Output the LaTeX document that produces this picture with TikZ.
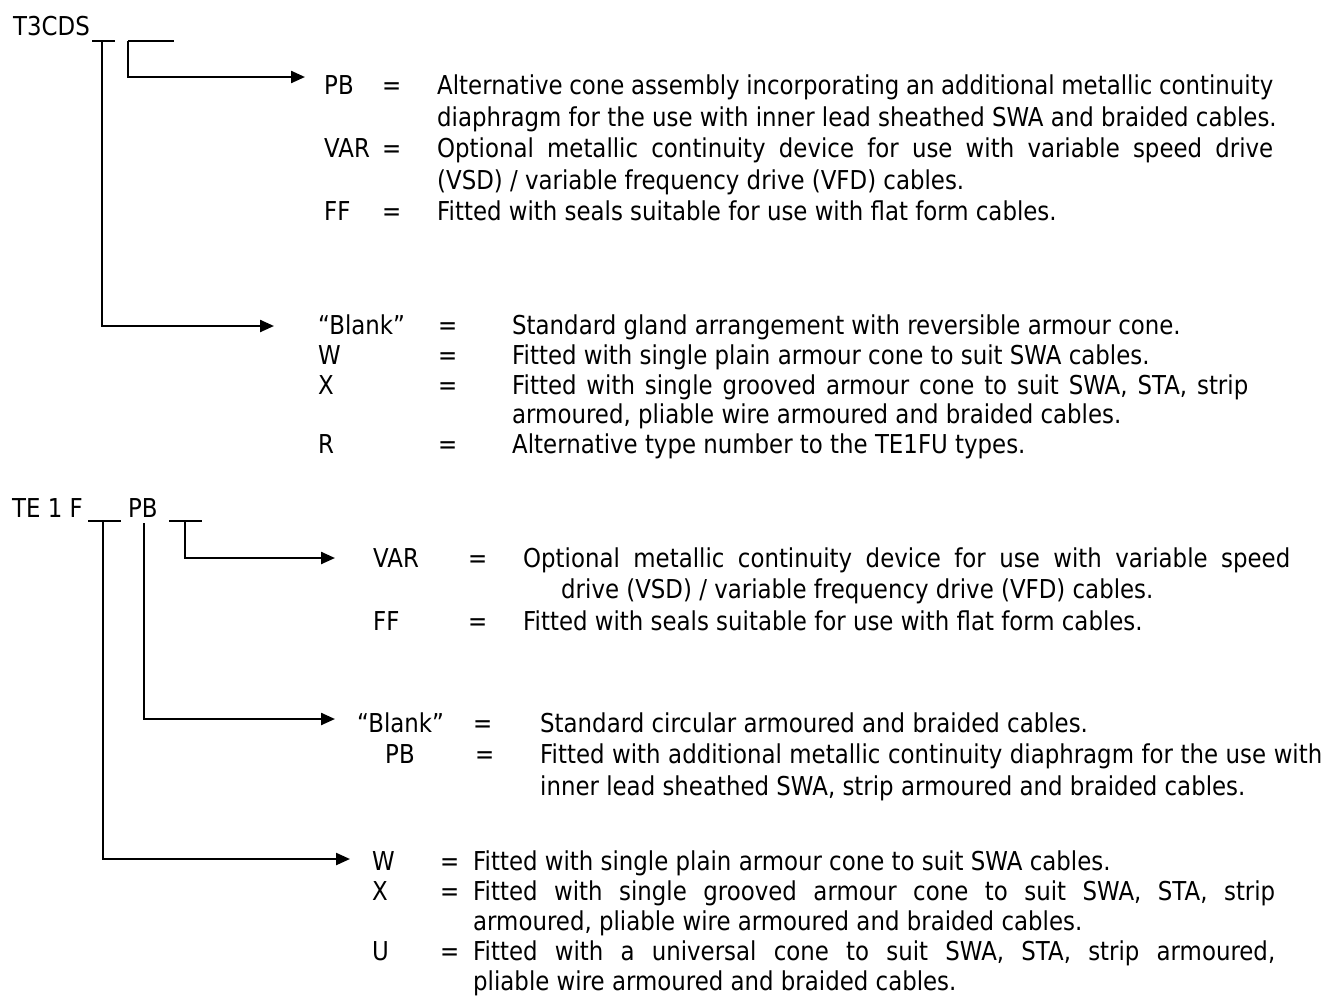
\documentclass[tikz,border=0pt]{standalone}
\usepackage{fontspec}
\setmainfont{DejaVu Sans}[FakeStretch=0.88]
\usetikzlibrary{arrows.meta}

\tikzset{
  txt/.style={anchor=base west, inner sep=0pt, font=\fontsize{26}{31}\selectfont},
  conn/.style={line width=2.3pt, -{Triangle[length=14pt,width=12pt]}},
  bar/.style={line width=2.3pt},
}

\begin{document}
\begin{tikzpicture}[x=1pt,y=-1pt]
\useasboundingbox (0,0) rectangle (1324,1002);

% T3CDS
\node[txt] (tcds) at (13,35) {T3CDS};
\coordinate (ta1) at (92,41);  \coordinate (tb1) at (115,41);
\coordinate (ta2) at (128,41); \coordinate (tb2) at (174,41);
\coordinate (tv1) at (102,41);
\draw[bar] (ta1) -- (tb1);
\draw[bar] (ta2) -- (tb2);

% 上段 (PB/VAR/FF)
\foreach \nm/\y/\key in {pb/94/PB, var/157/VAR, ff/220/FF} {
    \node[txt] (k\nm) at (324,\y) {\key};
    \node[txt] (e\nm) at (382,\y) {=};
}
\foreach \nm/\x/\y/\text in {
    da1/437/94/{\makebox[836pt][s]{Alternative cone assembly incorporating an additional metallic continuity}},
    da2/437/126/{diaphragm for the use with inner lead sheathed SWA and braided cables.},
    da3/437/157/{\makebox[836pt][s]{Optional metallic continuity device for use with variable speed drive}},
    da4/437/189/{(VSD) / variable frequency drive (VFD) cables.},
    da5/437/220/{Fitted with seals suitable for use with flat form cables.}} {
    \node[txt] (\nm) at (\x,\y) {\text};
}

% 上段 (Blank/W/X/R)
\foreach \nm/\y/\key in {blank/334/{``Blank''}, w/364/W, x/394/X, r/453/R} {
    \node[txt] (k\nm) at (318,\y) {\key};
    \node[txt] (e\nm) at (438,\y) {=};
}
\foreach \nm/\x/\y/\text in {
    db1/512/334/{Standard gland arrangement with reversible armour cone.},
    db2/512/364/{Fitted with single plain armour cone to suit SWA cables.},
    db3/512/394/{\makebox[736pt][s]{Fitted with single grooved armour cone to suit SWA, STA, strip}},
    db4/512/423/{armoured, pliable wire armoured and braided cables.},
    db5/512/453/{Alternative type number to the TE1FU types.}} {
    \node[txt] (\nm) at (\x,\y) {\text};
}

\coordinate (tpb) at (305,77);
\coordinate (tbl) at (274,326);
\draw[conn] (ta2) |- (tpb);
\draw[conn] (tv1) |- (tbl);

% TE 1 F
\node[txt] (te1f) at (12,517) {TE 1 F};
\node[txt] (tepb) at (128,517) {PB};
\coordinate (ma1) at (88,521);  \coordinate (mb1) at (121,521);
\coordinate (ma3) at (169,521); \coordinate (mb3) at (202,521);
\coordinate (mv1) at (103,521);
\coordinate (mv2) at (144,523);
\coordinate (mv3) at (185,521);
\draw[bar] (ma1) -- (mb1);
\draw[bar] (ma3) -- (mb3);

% 中段 (VAR/FF)
\foreach \nm/\y/\key in {mvar/567/VAR, mff/630/FF} {
    \node[txt] (k\nm) at (373,\y) {\key};
    \node[txt] (e\nm) at (468,\y) {=};
}
\foreach \nm/\x/\y/\text in {
    dc1/523/567/{\makebox[767pt][s]{Optional metallic continuity device for use with variable speed}},
    dc2/561/598/{drive (VSD) / variable frequency drive (VFD) cables.},
    dc3/523/630/{Fitted with seals suitable for use with flat form cables.}} {
    \node[txt] (\nm) at (\x,\y) {\text};
}

% 中段 (Blank/PB)
\node[txt] (kmblank) at (357,732) {``Blank''};
\node[txt] (emblank) at (473,732) {=};
\node[txt] (kmpb) at (385,763) {PB};
\node[txt] (empb) at (475,763) {=};
\foreach \nm/\x/\y/\text in {
    dd1/540/732/{Standard circular armoured and braided cables.},
    dd2/540/763/{\makebox[782pt][s]{Fitted with additional metallic continuity diaphragm for the use with}},
    dd3/540/795/{inner lead sheathed SWA, strip armoured and braided cables.}} {
    \node[txt] (\nm) at (\x,\y) {\text};
}

% 下段 (W/X/U)
\foreach \nm/\y/\key in {mw/870/W, mx/900/X, mu/960/U} {
    \node[txt] (k\nm) at (372,\y) {\key};
    \node[txt] (e\nm) at (440,\y) {=};
}
\foreach \nm/\x/\y/\text in {
    de1/473/870/{Fitted with single plain armour cone to suit SWA cables.},
    de2/473/900/{\makebox[802pt][s]{Fitted with single grooved armour cone to suit SWA, STA, strip}},
    de3/473/930/{armoured, pliable wire armoured and braided cables.},
    de4/473/960/{\makebox[802pt][s]{Fitted with a universal cone to suit SWA, STA, strip armoured,}},
    de5/473/990/{pliable wire armoured and braided cables.}} {
    \node[txt] (\nm) at (\x,\y) {\text};
}

\coordinate (mvr) at (335,558);
\coordinate (mbl) at (335,719);
\coordinate (mwr) at (350,859);
\draw[conn] (mv3) |- (mvr);
\draw[conn] (mv2) |- (mbl);
\draw[conn] (mv1) |- (mwr);

\end{tikzpicture}
\end{document}
